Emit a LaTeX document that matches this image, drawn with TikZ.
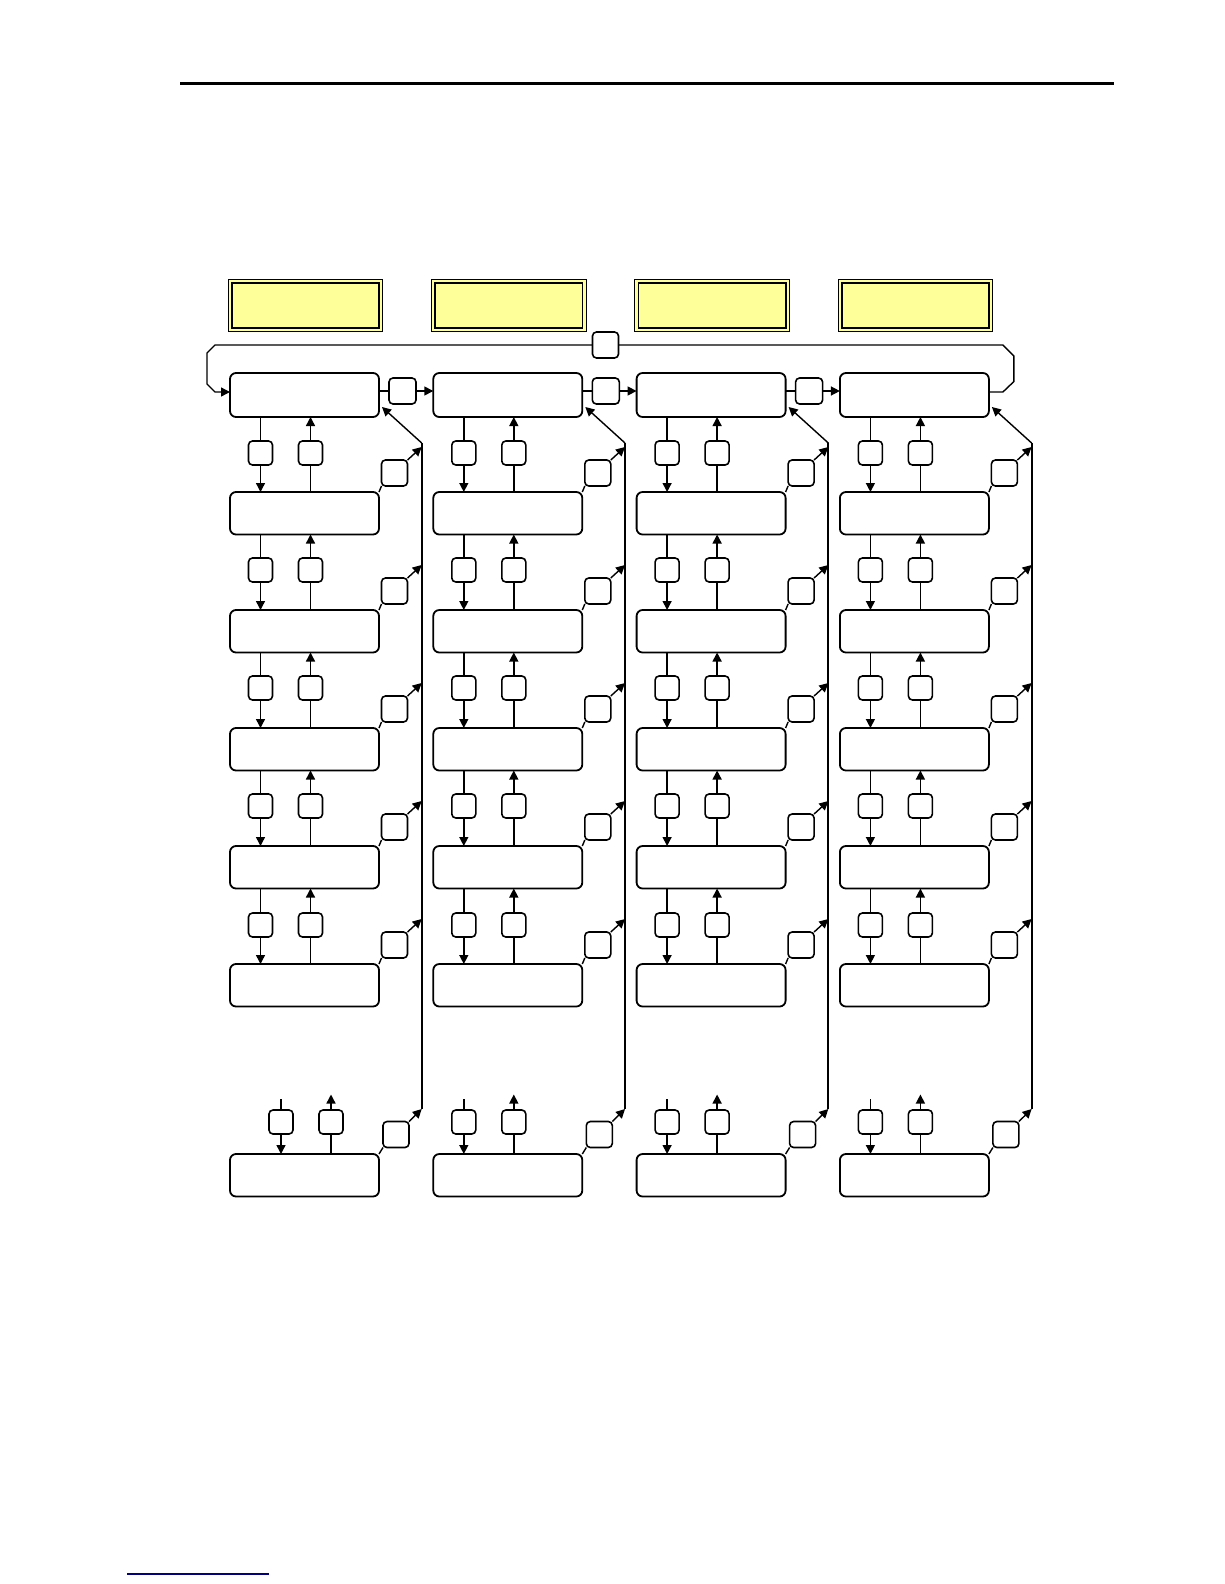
\documentclass[tikz,border=0pt]{standalone}
\usetikzlibrary{arrows.meta,calc}
\definecolor{hdr}{HTML}{FFFF99}
\definecolor{navyline}{HTML}{000080}
\tikzset{
 rowbox/.style={draw, line width=1.8pt, rounded corners=6pt, minimum width=149pt, minimum height=42.5pt, inner sep=0pt, outer sep=0pt, anchor=north west, fill=white},
 topbox/.style={rowbox, minimum height=44pt},
 smallsq/.style={draw, line width=1.6pt, rounded corners=4pt, minimum width=24pt, minimum height=24pt, inner sep=0pt, outer sep=0pt, fill=white},
 sidesq/.style={smallsq, minimum width=26pt, minimum height=26pt},
 conn/.style={line width=1.4pt},
 arr/.style={conn, -{Triangle[length=9pt,width=9pt]}},
 vline/.style={line width=1.8pt},
 hdrbox/.style={draw, line width=1pt, fill=hdr, minimum width=154.5pt, minimum height=52pt, inner sep=0pt, outer sep=0pt, anchor=north west},
 hdrinner/.style={draw, line width=1.7pt, minimum width=147.5pt, minimum height=45pt, inner sep=0pt, outer sep=0pt, anchor=center},
}
\begin{document}
\begin{tikzpicture}[x=1pt,y=-1pt]
\useasboundingbox (0,0) rectangle (1224,1584);
% top rule and bottom underline
\draw[line width=3pt] (180,84) coordinate (rl) -- (1114,84) coordinate (rr);
\draw[navyline, line width=1.3pt] (127,1574) coordinate (ul) -- (269,1574) coordinate (ur);
% columns
\foreach \ci in {0,1,2,3} {
  \pgfmathsetmacro{\colL}{230+203.3*\ci}
  \pgfmathsetmacro{\colR}{\colL+149}
  \pgfmathsetmacro{\sh}{\ci==0 ? 20.5 : 0}
  % header
  \node[hdrbox] (h\ci) at (\colL-1.7,279.5) {};
  \node[hdrinner] (hi\ci) at (h\ci.center) {};
  % row boxes
  \node[topbox] (b\ci-0) at (\colL,373) {};
  \foreach \ri/\t in {1/492,2/610,3/728,4/846,5/964,6/1154} {
    \node[rowbox] (b\ci-\ri) at (\colL,\t) {};
  }
  % down / up squares between rows
  \foreach \ri/\y/\n in {0/453/1,1/570/2,2/688/3,3/806/4,4/925/5} {
    \node[smallsq] (d\ci-\ri) at (\colL+30.5,\y) {};
    \node[smallsq] (u\ci-\ri) at (\colL+80.5,\y) {};
    \draw[conn] (d\ci-\ri.north |- b\ci-\ri.south) -- (d\ci-\ri.north);
    \draw[arr] (d\ci-\ri.south) -- (d\ci-\ri.south |- b\ci-\n.north);
    \draw[conn] (u\ci-\ri.south |- b\ci-\n.north) -- (u\ci-\ri.south);
    \draw[arr] (u\ci-\ri.north) -- (u\ci-\ri.north |- b\ci-\ri.south);
  }
  % bottom row stubs
  \node[smallsq] (d\ci-6) at (\colL+30.5+\sh,1122) {};
  \node[smallsq] (u\ci-6) at (\colL+80.5+\sh,1122) {};
  \coordinate (din\ci) at ($(d\ci-6.north)+(0,-11)$);
  \coordinate (uout\ci) at ($(u\ci-6.north)+(0,-15.5)$);
  \draw[conn] (din\ci) -- (d\ci-6.north);
  \draw[arr] (d\ci-6.south) -- (d\ci-6.south |- b\ci-6.north);
  \draw[conn] (u\ci-6.south |- b\ci-6.north) -- (u\ci-6.south);
  \draw[arr] (u\ci-6.north) -- (uout\ci);
  % side squares and return line
  \foreach \ri/\t in {1/492,2/610,3/728,4/846,5/964} {
    \node[sidesq] (s\ci-\ri) at (\colR+15.5,\t-19) {};
    \coordinate (v\ci-\ri) at (\colL+191.7,\t-45);
    \draw[conn] (b\ci-\ri.north east) -- (s\ci-\ri.south west);
    \draw[arr] (s\ci-\ri.north east) -- (v\ci-\ri);
  }
  \node[sidesq] (s\ci-6) at (\colR+17,1134.5) {};
  \coordinate (v\ci-6) at (\colL+191.7,1109);
  \draw[conn] (b\ci-6.north east) -- (s\ci-6.south west);
  \draw[arr] (s\ci-6.north east) -- (v\ci-6);
  \coordinate (vt\ci) at (\colL+191.7,443);
  \draw[vline] (v\ci-6) -- (vt\ci);
  \coordinate (e\ci) at ($(b\ci-0.south east)+(3,-10)$);
  \draw[arr] (vt\ci) -- (e\ci);
}
% horizontal arrows between top boxes
\foreach \ci/\nx in {0/1,1/2,2/3} {
  \node[sidesq, minimum width=27pt] (q\ci) at ($(b\ci-0.north east)+(23.5,18)$) {};
  \draw[conn] (b\ci-0.east |- q\ci.west) -- (q\ci.west);
  \draw[arr] (q\ci.east) -- (q\ci.east -| b\nx-0.west);
}
% wrap-around loop
\node[sidesq] (lp) at (605.5,345) {};
\coordinate (lr0) at ($(b3-0.north east)+(0,19)$);
\coordinate (ll0) at ($(b0-0.north west)+(0,19)$);
\draw[conn] (lr0) -- ++(14,0) -- ++(11,-10.5) -- ++(0,-25.5) -- ++(-11,-11) -- (lp.east);
\draw[arr] (lp.west) -- (215,345) -- (207,353) -- (207,384) -- (215,392) -- (ll0);
\end{tikzpicture}
\end{document}
